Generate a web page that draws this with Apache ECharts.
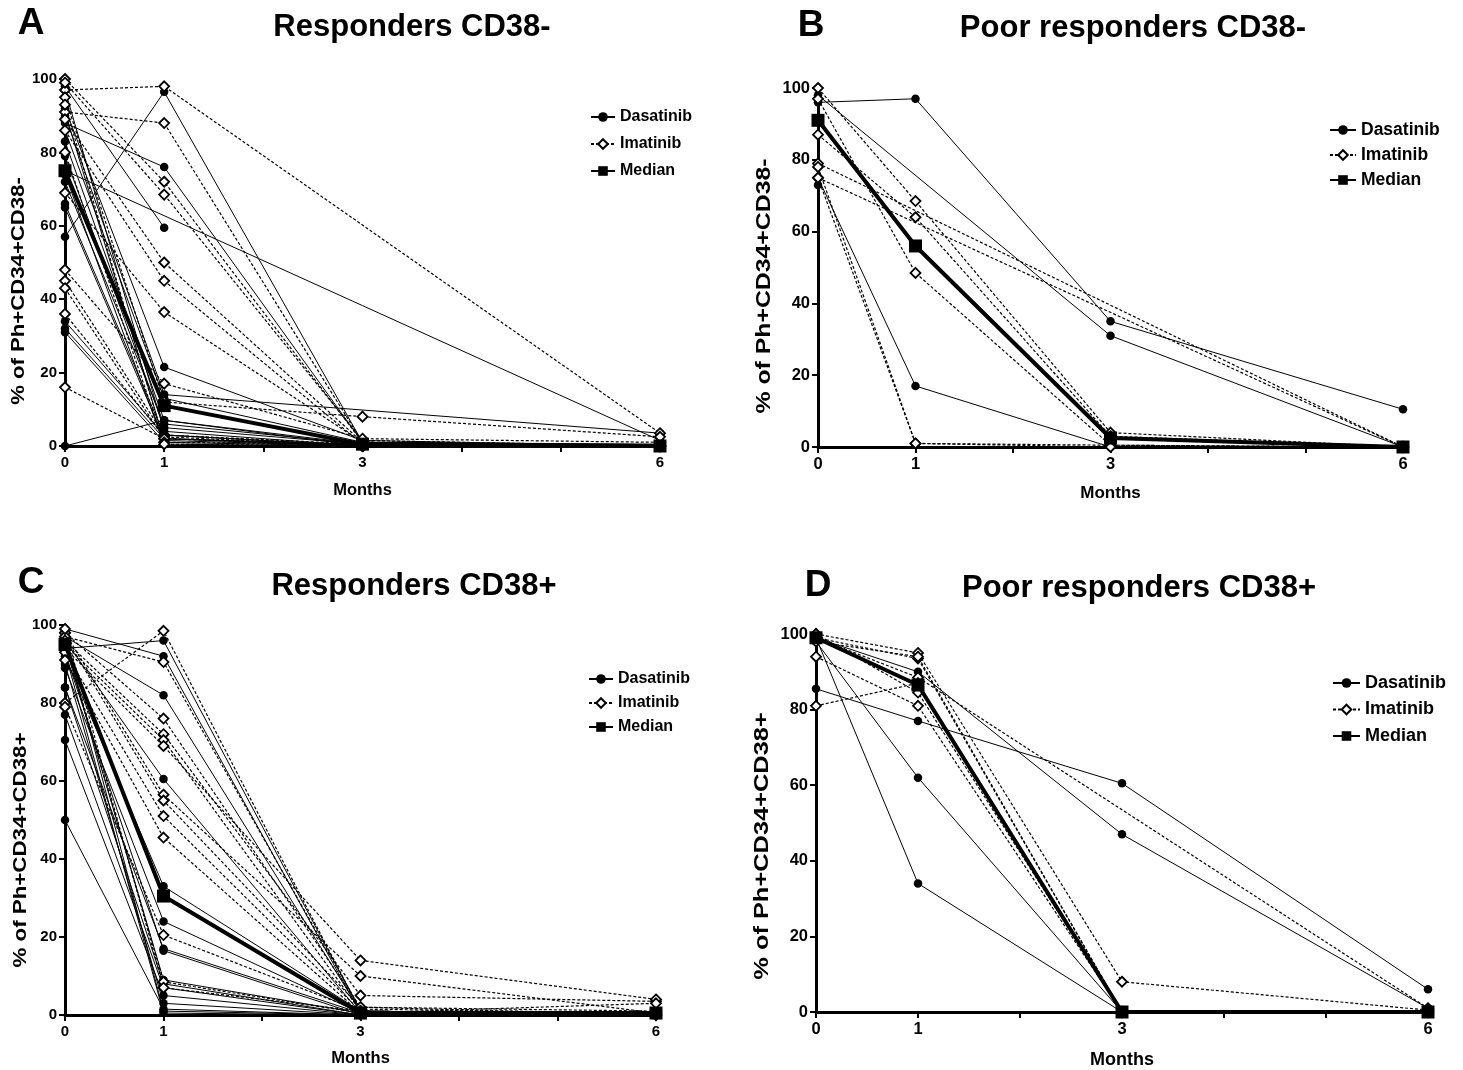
<!DOCTYPE html>
<html><head><meta charset="utf-8">
<script src="https://cdn.jsdelivr.net/npm/echarts@6/dist/echarts.min.js"></script>
<style>html,body{margin:0;padding:0;background:#fff}#c{width:1463px;height:1070px}</style>
</head><body><div id="c"></div>
<script>
// ---------- data ----------
const months = [0, 1, 3, 6];
const monthLabels = [0, 1, 3, 6];
const yMin = 0, yMax = 100, yStep = 20;
const panelLetters = ['A', 'B', 'C', 'D'];
const panelTitles = ['Responders CD38-', 'Poor responders CD38-', 'Responders CD38+', 'Poor responders CD38+'];
const yAxisNames = ['% of Ph+CD34+CD38-', '% of Ph+CD34+CD38-', '% of Ph+CD34+CD38+', '% of Ph+CD34+CD38+'];
const xAxisName = 'Months';
const legendNames = ['Dasatinib', 'Imatinib', 'Median'];

// each row: value at months 0, 1, 3, 6 (null = not measured)
// Panel A: Responders CD38-
const aDasatinib = [
  [57, 96.5, 1, null], [75, null, null, 1.5], [88, 76, 1, 0.5], [98, 59.5, null, null],
  [92, 21.5, 1.5, 0], [90, 14, null, 3.5], [86, 13, 1, 0], [83, 7, 0.5, 0],
  [79, 5, 0.5, 0], [97, 4, 0, 0], [66, 3, 0, 0], [65, 2, 0.5, 0],
  [34, 3, 0, 0], [32, 2, 0, 0], [31, 1, 0, 0], [0, 7, 0, 0],
  [91, 1.5, 0, 0], [74, 0.5, 0, 0], [72, 6, 0.5, 0]
];
const aImatinib = [
  [97, 98, null, 3.5], [91, 88, 1, 0], [100, 72, 1, 0], [99, 68.5, 1.5, 0],
  [89, 50, 1, 0], [86, 45, 0.5, 0], [69, 36.5, 1, 0], [48, 17, 2, 1],
  [95, 12, 8, 2.5], [45, 3, 0.5, 0], [43, 2, 0, 0], [36, 2.5, 0, 0],
  [16, 2, 0, 0], [93, 1, 0.5, 0], [80, 0.5, 0, 0]
];
const aMedian = [75, 11, 0.5, 0];

// Panel B: Poor responders CD38-
const bDasatinib = [
  [96, 97, 35, 10.5], [98, null, 31, 0], [75, 17, 0, null], [73, null, null, null]
];
const bImatinib = [
  [100, 68.5, 4, 0], [87, 64, 3, 0], [97, 48.5, 0.5, 0], [79, null, null, 0],
  [75, null, null, 0], [75, 1, 0.5, 0], [78, 1, 0, 0]
];
const bMedian = [91, 56, 2.5, 0];

// Panel C: Responders CD38+
const cDasatinib = [
  [94, 96, 1, null], [99, 92, 0.5, 0], [97, 82, 1, 0], [96, 60.5, 0.5, 0],
  [92, 33, 1, 0], [89, 24, 0.5, 0], [84, 17, 0.5, 0], [93, 16.5, 0, 0],
  [95, 9, 0.5, 0], [84, 8, 0, 0], [77, 7, 0, 0], [70.5, 5, 0, 0],
  [90, 3, 0, 0], [50, 1.5, 0, 0], [97, 1, 0, 0], [93, 0.5, 0, 0]
];
const cImatinib = [
  [80, 98.5, 1, 0], [97, 90.5, 1.5, 0.5], [98, 76, 2, 0], [96, 72, 5, 3.5],
  [95, 70.5, 1, 0], [94, 69, 14, 4], [98, 56.5, 10, 0.5], [97, 55, 2, 1],
  [93, 51, 1, 0], [91, 45.5, 0.5, 0], [79, 20.5, 1, 0], [96, 8.5, 0.5, 3],
  [99, 7, 1, 0]
];
const cMedian = [95, 30.5, 0.5, 0.5];

// Panel D: Poor responders CD38+
const dDasatinib = [
  [85.5, 77, 60.5, 6], [99, 90, 47, 1], [98, 62, 0, null], [99, 34, 0, null]
];
const dImatinib = [
  [99, 88.5, null, 1], [100, 95, 8, 0.5], [99, 93.5, 0, 0], [98, 94, 0, 0],
  [94, 81, 0, 0], [81, 87, 0, 0], [100, 84.5, 0, 0]
];
const dMedian = [99, 86.5, 0, 0];

const panelData = [
  { das: aDasatinib, ima: aImatinib, med: aMedian },
  { das: bDasatinib, ima: bImatinib, med: bMedian },
  { das: cDasatinib, ima: cImatinib, med: cMedian },
  { das: dDasatinib, ima: dImatinib, med: dMedian }
];

// ---------- layout ----------
const FONT = "'Liberation Sans', Arial, sans-serif";
const grids = [
  { left: 65, top: 79, width: 595, height: 367 },
  { left: 818, top: 88, width: 585, height: 359 },
  { left: 65, top: 625, width: 591, height: 390 },
  { left: 816, top: 634, width: 612, height: 379 }
];
const tickFont = [15, 16.5, 15, 16.5];
const xNameGap = [36, 38, 35, 39];
const xNameFont = [16.5, 17, 16.5, 18];
// y-axis name: [centerX, centerY, fontSize, stretch along text]
const yNamePos = [[19, 291, 18, 1.23], [764, 286, 20, 1.24], [21, 850, 18, 1.24], [762, 846, 20, 1.27]];
const titlePos = [[412, 27], [1133, 28], [414, 586], [1139, 588]];
const letterPos = [[31, 24], [811, 26], [31, 583], [818, 586]];
// [left, top, itemGap, fontSize, itemWidth]
const legendPos = [[585, 104, 11, 16, 24], [1324, 116, 7, 17.5, 26], [583, 666, 8, 16, 24], [1327, 669, 8.5, 18, 27]];

function toPoints(row) {
  const pts = [];
  months.forEach((m, j) => { if (row[j] !== null && row[j] !== undefined) pts.push([m, row[j]]); });
  return pts;
}

const series = [];
const dasStyle = {
  type: 'line', name: 'Dasatinib', symbol: 'circle', symbolSize: 8.5,
  itemStyle: { color: '#000' }, lineStyle: { color: '#000', width: 1, type: 'solid' }, z: 3
};
const imaStyle = {
  type: 'line', name: 'Imatinib', symbol: 'diamond', symbolSize: 10,
  itemStyle: { color: '#fff', borderColor: '#000', borderWidth: 1.8 },
  lineStyle: { color: '#000', width: 1.2, type: [3, 2] }, z: 4
};
const medStyle = {
  type: 'line', name: 'Median', symbol: 'rect', symbolSize: 13,
  itemStyle: { color: '#000' }, lineStyle: { color: '#000', width: 4, type: 'solid' }, z: 5
};
const common = { clip: false, silent: true, showSymbol: true, emphasis: { disabled: true } };
panelData.forEach((p, i) => {
  p.das.forEach(row => series.push(Object.assign({}, dasStyle, common, { xAxisIndex: i, yAxisIndex: i, data: toPoints(row) })));
  p.ima.forEach(row => series.push(Object.assign({}, imaStyle, common, { xAxisIndex: i, yAxisIndex: i, data: toPoints(row) })));
  series.push(Object.assign({}, medStyle, common, { xAxisIndex: i, yAxisIndex: i, data: toPoints(p.med) }));
});

const xAxes = grids.map((g, i) => ({
  type: 'value', gridIndex: i, min: 0, max: 6, interval: 1,
  name: xAxisName, nameLocation: 'middle', nameGap: xNameGap[i],
  nameTextStyle: { fontFamily: FONT, fontSize: xNameFont[i], fontWeight: 'bold', color: '#000' },
  axisLine: { onZero: false, lineStyle: { color: '#000', width: 3 } },
  axisTick: { show: true, length: 6, lineStyle: { color: '#000', width: 2 } },
  axisLabel: {
    margin: 9, fontFamily: FONT, fontSize: tickFont[i], fontWeight: 'bold', color: '#000',
    formatter: v => monthLabels.includes(v) ? String(v) : ''
  },
  splitLine: { show: false }
}));
const yAxes = grids.map((g, i) => ({
  type: 'value', gridIndex: i, min: yMin, max: yMax, interval: yStep,
  axisLine: { onZero: false, lineStyle: { color: '#000', width: 3 } },
  axisTick: { show: true, length: 6, lineStyle: { color: '#000', width: 2 } },
  axisLabel: { margin: 8, fontFamily: FONT, fontSize: tickFont[i], fontWeight: 'bold', color: '#000' },
  splitLine: { show: false }
}));

const legends = legendPos.map(([l, t, gap, fs, iw]) => ({
  data: legendNames, orient: 'vertical', left: l, top: t, itemGap: gap,
  itemWidth: iw, itemHeight: 12, selectedMode: false,
  textStyle: { fontFamily: FONT, fontSize: fs, fontWeight: 'bold', color: '#000' }
}));

const graphics = [];
panelTitles.forEach((t, i) => graphics.push({
  type: 'text', x: titlePos[i][0], y: titlePos[i][1], silent: true,
  style: { text: t, font: "bold 31px " + FONT, fill: '#000', align: 'center', verticalAlign: 'middle' }
}));
panelLetters.forEach((t, i) => graphics.push({
  type: 'text', x: letterPos[i][0], y: letterPos[i][1], silent: true,
  style: { text: t, font: "bold 37px " + FONT, fill: '#000', align: 'center', verticalAlign: 'middle' }
}));
yAxisNames.forEach((t, i) => {
  const [cx, cy, fs, sx] = yNamePos[i];
  graphics.push({
    type: 'text', x: cx, y: cy, rotation: Math.PI / 2, scaleX: sx, scaleY: 1, silent: true,
    style: { text: t, font: "bold " + fs + "px " + FONT, fill: '#000', align: 'center', verticalAlign: 'middle' }
  });
});

const chart = echarts.init(document.getElementById('c'), null, { renderer: 'canvas' });
chart.setOption({
  backgroundColor: '#fff', animation: false,
  grid: grids, xAxis: xAxes, yAxis: yAxes,
  legend: legends, graphic: graphics, series: series
});
</script></body></html>
